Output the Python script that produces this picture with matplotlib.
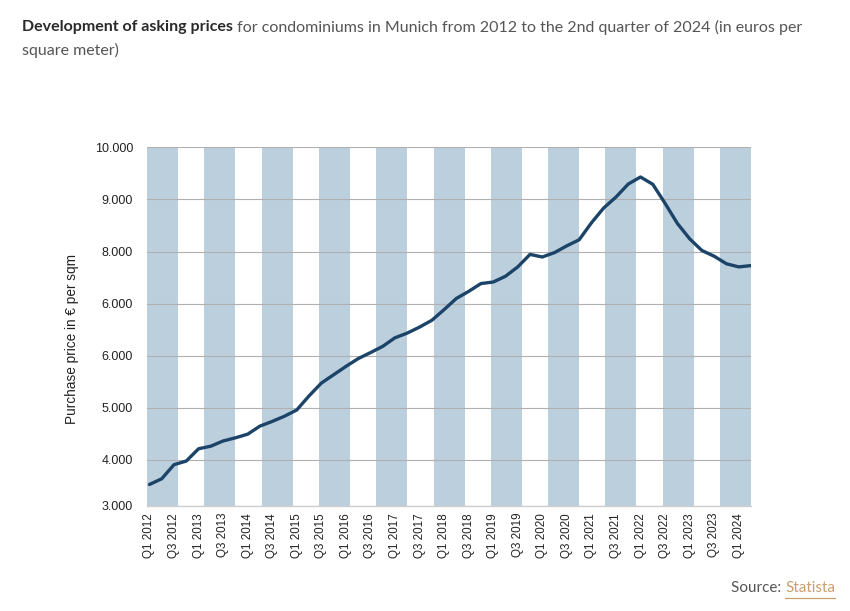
import matplotlib
matplotlib.use("Agg")
import matplotlib.pyplot as plt
from matplotlib.patches import Rectangle
from matplotlib.lines import Line2D

# ---- data ----
quarters = [f"Q{q} {y}" for y in range(2012, 2025) for q in (1, 2, 3, 4)][:50]  # Q1 2012 .. Q2 2024
prices = [3530, 3640, 3910, 3980, 4215, 4265, 4365, 4425, 4495, 4650,
          4740, 4840, 4960, 5230, 5475, 5635, 5795, 5945, 6060, 6180,
          6345, 6435, 6550, 6680, 6885, 7100, 7235, 7385, 7415, 7525,
          7705, 7945, 7895, 7980, 8110, 8225, 8550, 8835, 9045, 9295,
          9430, 9290, 8925, 8540, 8245, 8020, 7910, 7765, 7705, 7730]
tick_labels = quarters[::2]
ytick_values = [3117, 4000, 5000, 6000, 7000, 8000, 9000, 10000]
ytick_labels = ["3.000", "4.000", "5.000", "6.000", "6.000", "8.000", "9.000", "10.000"]
title_bold = "Development of asking prices"
title_rest = " for condominiums in Munich from 2012 to the 2nd quarter of 2024 (in euros per"
title_line2 = "square meter)"
ylabel = "Purchase price in \u20ac per sqm"

# ---- styling ----
W, H = 850, 611
fig = plt.figure(figsize=(W / 100, H / 100), dpi=100)
fig.patch.set_facecolor("white")
ax = fig.add_axes([147 / W, 1 - 506 / H, (751 - 147) / W, (506 - 147.3) / H])

band_color = "#bccfdd"
line_color = "#1b4468"
grid_color = "#b0b0b0"
text_font = ["Liberation Sans", "DejaVu Sans"]

# background bands (decorative, in axes fraction)
n_bands = 11
band_w = 31 / 604
period = 57.3 / 604
for k in range(n_bands):
    ax.add_patch(Rectangle((k * period, 0), band_w, 1, transform=ax.transAxes,
                           facecolor=band_color, edgecolor="none", zorder=0))

x = list(range(len(prices)))
ax.plot(x, prices, color=line_color, lw=2.4, solid_joinstyle="round",
        solid_capstyle="round", zorder=3)

ax.set_xlim(-0.2, len(prices) - 1)
ax.set_ylim(ytick_values[0], 10000)
ax.set_yticks(ytick_values)
ax.set_yticklabels(ytick_labels)
ax.set_xticks(x[::2])
ax.set_xticklabels(tick_labels, rotation=90)
ax.tick_params(axis="y", length=0, labelsize=9, colors="#222222", pad=10)
ax.tick_params(axis="x", length=0, labelsize=8.4, colors="#222222", pad=5)
for lab in ax.get_xticklabels() + ax.get_yticklabels():
    lab.set_family(text_font)

for s in ["top", "right", "left"]:
    ax.spines[s].set_visible(False)
ax.spines["bottom"].set_color("#cfcfcf")
ax.spines["bottom"].set_linewidth(1.0)
ax.yaxis.grid(True, color=grid_color, lw=0.8, zorder=1)
ax.set_axisbelow(False)
for gl in ax.get_ygridlines():
    gl.set_zorder(1)

fig.text(72 / W, 1 - 339 / H, ylabel, family=text_font, fontsize=9.8,
         color="#222222", rotation=90, ha="center", va="center")

# title
title_font = ["Lato", "DejaVu Sans"]
fs = 11.5
t1 = fig.text(22 / W, 1 - 27 / H, title_bold, fontsize=fs, fontweight="bold",
              family=title_font, color="#2a2a2a", va="center", ha="left")
fig.canvas.draw()
r = fig.canvas.get_renderer()
bb = t1.get_window_extent(r)
fig.text(bb.x1 / W, 1 - 27 / H, title_rest, fontsize=fs, family=title_font,
         color="#555555", va="center", ha="left")
fig.text(22 / W, 1 - 50 / H, title_line2, fontsize=fs, family=title_font,
         color="#555555", va="center", ha="left")

# source
src2 = fig.text(835 / W, 1 - 588 / H, "Statista", fontsize=11, family=title_font,
                color="#c9a06a", va="center", ha="right")
fig.canvas.draw()
bb2 = src2.get_window_extent(r)
fig.text(bb2.x0 / W, 1 - 588 / H, "Source: ", fontsize=11, family=title_font,
         color="#555555", va="center", ha="right")
fig.add_artist(Line2D([bb2.x0 / W, bb2.x1 / W], [1 - 598 / H, 1 - 598 / H],
                      transform=fig.transFigure, color="#c9a06a", lw=0.9))

fig.savefig("out.png", dpi=100, facecolor="white")
